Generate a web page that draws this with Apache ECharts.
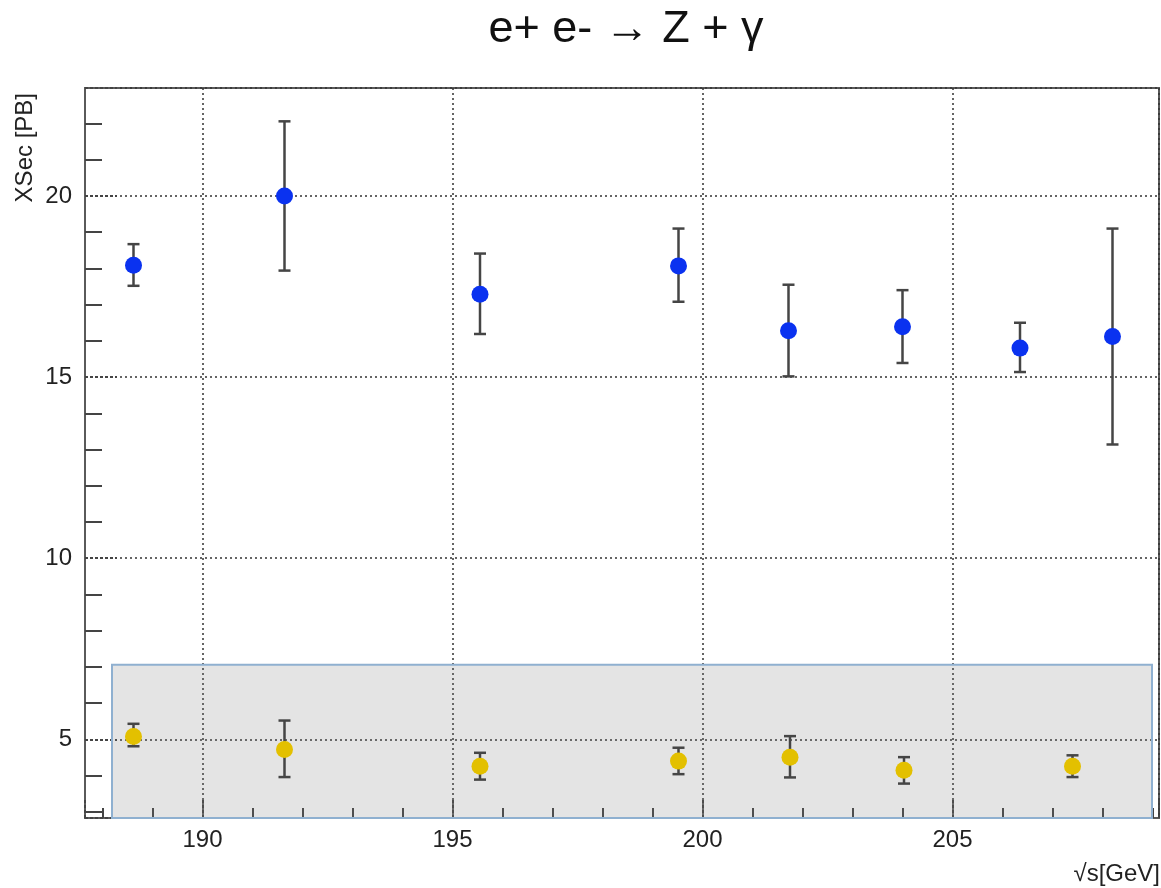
<!DOCTYPE html>
<html><head><meta charset="utf-8">
<script src="https://cdn.jsdelivr.net/npm/echarts@6/dist/echarts.min.js"></script>
<style>html,body{margin:0;padding:0;background:#fff}#c{width:1161px;height:888px}</style>
</head><body><div id="c"></div>
<script>
// ---- text ----
const titleText = 'e+ e- \u2192 Z + \u03b3';
const xAxisName = '\u221as[GeV]';
const yAxisName = 'XSec [PB]';
// ---- axis ranges ----
const xRange = [187.65, 209.13];
const yRange = [2.83, 22.98];
// ---- highlighted box (x from, x to / y from, y to) ----
const boxX = [188.19, 208.99];
const boxY = [2.83, 7.06];
// ---- blue series: Z + gamma ----
const blueEnergy = [188.62, 191.64, 195.55, 199.52, 201.72, 204.0, 206.35, 208.2];
const blueXsec   = [18.09, 20.0, 17.29, 18.07, 16.28, 16.39, 15.80, 16.12];
const blueHigh   = [18.67, 22.06, 18.41, 19.10, 17.55, 17.40, 16.50, 19.10];
const blueLow    = [17.52, 17.94, 16.19, 17.08, 15.02, 15.39, 15.14, 13.14];
// ---- yellow series ----
const yellowEnergy = [188.62, 191.64, 195.55, 199.52, 201.75, 204.03, 207.4];
const yellowXsec   = [5.08, 4.72, 4.26, 4.40, 4.51, 4.15, 4.26];
const yellowHigh   = [5.43, 5.52, 4.63, 4.77, 5.09, 4.51, 4.56];
const yellowLow    = [4.81, 3.96, 3.89, 4.04, 3.95, 3.78, 3.96];

const FONT = 'Liberation Sans';
const pts = (xs, ys) => xs.map((x, i) => [x, ys[i]]);
const errs = (xs, lo, hi) => xs.map((x, i) => [x, lo[i], hi[i]]);

function errRender(params, api) {
  const x = api.value(0), lo = api.value(1), hi = api.value(2);
  const a = api.coord([x, lo]), b = api.coord([x, hi]);
  const cw = 6;
  const style = { stroke: '#454545', lineWidth: 2.5 };
  return { type: 'group', children: [
    { type: 'line', shape: { x1: a[0], y1: a[1], x2: b[0], y2: b[1] }, style },
    { type: 'line', shape: { x1: a[0] - cw, y1: a[1], x2: a[0] + cw, y2: a[1] }, style },
    { type: 'line', shape: { x1: b[0] - cw, y1: b[1], x2: b[0] + cw, y2: b[1] }, style }
  ]};
}

const chart = echarts.init(document.getElementById('c'), null, { renderer: 'canvas' });
chart.setOption({
  animation: false,
  backgroundColor: '#ffffff',
  title: {
    text: titleText, left: 621, top: 2, textAlign: 'center',
    textStyle: { fontFamily: FONT, fontSize: 45, fontWeight: 'normal', color: '#111' }
  },
  grid: { left: 85, right: 2, top: 88, bottom: 70, show: true, borderColor: '#5a5a5a', borderWidth: 2,
          containLabel: false, outerBoundsMode: 'none' },
  xAxis: {
    type: 'value', min: xRange[0], max: xRange[1], splitNumber: 4,
    name: xAxisName, nameLocation: 'end', nameGap: 1,
    nameTextStyle: { fontFamily: FONT, fontSize: 24, color: '#222', align: 'right', verticalAlign: 'top', padding: [44, 0, 0, 0] },
    axisLine: { show: true, onZero: false, lineStyle: { color: '#5a5a5a', width: 2 } },
    axisTick: { show: true, inside: true, length: 18, lineStyle: { color: '#444', width: 2, type: [3, 2] } },
    minorTick: { show: true, splitNumber: 5, length: 10, lineStyle: { color: '#444', width: 2 } },
    axisLabel: { showMinLabel: false, showMaxLabel: false, margin: 10, fontFamily: FONT, fontSize: 24, color: '#222' },
    splitLine: { show: true, lineStyle: { color: '#333', width: 1.5, type: [2, 3] } }
  },
  yAxis: {
    type: 'value', min: yRange[0], max: yRange[1], splitNumber: 4,
    name: yAxisName, nameLocation: 'end', nameGap: -5, nameRotate: 90,
    nameTextStyle: { fontFamily: FONT, fontSize: 24, color: '#222', align: 'right', verticalAlign: 'bottom', padding: [0, 0, 48, 0] },
    axisLine: { show: true, onZero: false, lineStyle: { color: '#5a5a5a', width: 2 } },
    axisTick: { show: true, inside: true, length: 32, lineStyle: { color: '#444', width: 2, type: [3, 2] } },
    minorTick: { show: true, splitNumber: 5, length: 17, lineStyle: { color: '#444', width: 2 } },
    axisLabel: { showMinLabel: false, showMaxLabel: false, margin: 13, fontFamily: FONT, fontSize: 24, color: '#222' },
    splitLine: { show: true, lineStyle: { color: '#333', width: 1.5, type: [2, 3] } }
  },
  series: [
    {
      type: 'scatter', name: 'box', data: [], silent: true, z: 1,
      markArea: {
        silent: true,
        itemStyle: { color: 'rgba(120,120,120,0.2)', borderColor: '#8fb0d0', borderWidth: 2 },
        data: [[{ coord: [boxX[0], boxY[0]] }, { coord: [boxX[1], boxY[1]] }]]
      }
    },
    { type: 'custom', name: 'blueErr', renderItem: errRender, data: errs(blueEnergy, blueLow, blueHigh),
      encode: { x: 0, y: [1, 2] }, z: 3, silent: true },
    { type: 'custom', name: 'yellowErr', renderItem: errRender, data: errs(yellowEnergy, yellowLow, yellowHigh),
      encode: { x: 0, y: [1, 2] }, z: 3, silent: true },
    { type: 'scatter', name: 'Z+gamma', data: pts(blueEnergy, blueXsec), symbol: 'circle', symbolSize: 17,
      itemStyle: { color: '#0a32f0', opacity: 1 }, z: 4 },
    { type: 'scatter', name: 'yellow', data: pts(yellowEnergy, yellowXsec), symbol: 'circle', symbolSize: 17,
      itemStyle: { color: '#e3c000', opacity: 1 }, z: 4 }
  ]
});
</script>
</body></html>
